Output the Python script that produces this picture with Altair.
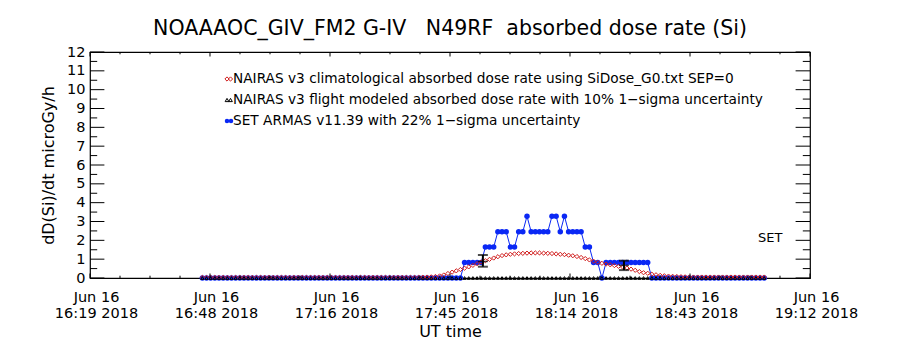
import altair as alt
import pandas as pd

# ---------------- data ----------------
# time axis in minutes after Jun 16 2018 16:19 UT
minutes = list(range(27, 163))

red_clim = [
    0.03, 0.03, 0.03, 0.03, 0.03, 0.03, 0.03, 0.03, 0.03, 0.03,
    0.03, 0.03, 0.03, 0.03, 0.03, 0.03, 0.03, 0.03, 0.03, 0.03,
    0.03, 0.03, 0.03, 0.03, 0.03, 0.03, 0.03, 0.03, 0.03, 0.03,
    0.03, 0.03, 0.03, 0.03, 0.03, 0.03, 0.03, 0.03, 0.03, 0.03,
    0.03, 0.03, 0.03, 0.03, 0.03, 0.03, 0.03, 0.03, 0.03, 0.03,
    0.03, 0.03, 0.03, 0.04, 0.05,
    0.06, 0.08, 0.11, 0.16, 0.24, 0.31, 0.38, 0.45, 0.52, 0.59,
    0.67, 0.76, 0.85, 0.92, 0.99, 1.06, 1.13, 1.19, 1.23, 1.26,
    1.28, 1.30, 1.31, 1.32, 1.33, 1.33, 1.33, 1.32, 1.31, 1.30,
    1.28, 1.26, 1.24, 1.21, 1.18, 1.14, 1.09, 1.03, 0.96, 0.89,
    0.83, 0.78, 0.74, 0.70, 0.66, 0.62, 0.58, 0.53, 0.47, 0.41,
    0.34, 0.28, 0.25, 0.20, 0.17, 0.14, 0.12, 0.10, 0.09, 0.08,
    0.07, 0.06, 0.05, 0.05, 0.05, 0.05, 0.05, 0.05, 0.05, 0.05,
    0.05, 0.05, 0.05, 0.05, 0.05, 0.05, 0.05, 0.05, 0.05, 0.05,
    0.05,
]

black_flight = [
    0, 0, 0, 0, 0, 0, 0, 0, 0, 0, 0, 0, 0, 0, 0, 0, 0, 0, 0, 0,
    0, 0, 0, 0, 0, 0, 0, 0, 0, 0, 0, 0, 0, 0, 0, 0, 0, 0, 0, 0,
    0, 0, 0, 0, 0, 0, 0, 0, 0, 0, 0, 0, 0, 0, 0, 0, 0, 0, 0, 0,
    0, 0, 0, 0, 0, 0, 0, 0, 0, 0, 0, 0, 0, 0, 0, 0, 0, 0, 0, 0,
    0, 0, 0, 0, 0, 0, 0, 0, 0, 0, 0, 0, 0, 0, 0, 0, 0, 0, 0, 0,
    0, 0, 0, 0, 0, 0, 0, 0, 0, 0, 0, 0, 0, 0, 0, 0, 0, 0, 0, 0,
    0, 0, 0, 0, 0, 0, 0, 0, 0, 0, 0, 0, 0, 0, 0, 0,
]

blue_set = [
    0, 0, 0, 0, 0, 0, 0, 0, 0, 0, 0, 0, 0, 0, 0, 0, 0, 0, 0, 0,
    0, 0, 0, 0, 0, 0, 0, 0, 0, 0, 0, 0, 0, 0, 0, 0, 0, 0, 0, 0,
    0, 0, 0, 0, 0, 0, 0, 0, 0, 0, 0, 0, 0, 0, 0, 0, 0, 0, 0, 0,
    0, 0, 0,
    0.82, 0.82, 0.82, 0.82, 0.82,
    1.64, 1.64, 1.64,
    2.46, 2.46, 2.46,
    1.64, 1.64,
    2.46, 2.46,
    3.28,
    2.46, 2.46, 2.46, 2.46, 2.46,
    3.28, 3.28,
    2.46,
    3.28,
    2.46, 2.46, 2.46, 2.46,
    1.64, 1.64,
    0.82, 0.82,
    0,
    0.82, 0.82, 0.82, 0.82, 0.82, 0.82, 0.82, 0.82, 0.82, 0.82, 0.82,
    0, 0, 0, 0, 0, 0, 0, 0, 0, 0, 0, 0, 0, 0, 0, 0, 0, 0, 0, 0,
    0, 0, 0, 0, 0, 0, 0, 0,
]

# error bars (black, I-shaped)
err_t = [94.4, 128.3]
err_mid = [0.88, 0.67]
err_lo = [0.60, 0.42]
err_hi = [1.22, 0.92]

x_tick_minutes = [0, 28.83, 57.67, 86.5, 115.33, 144.17, 173.0]
x_minor_minutes = [7.21, 14.42, 21.63, 36.04, 43.25, 50.46, 64.88, 72.08, 79.29,
                   93.71, 100.92, 108.13, 122.54, 129.75, 136.96, 151.38, 158.58, 165.79]
x_tick_dates = ["Jun 16", "Jun 16", "Jun 16", "Jun 16", "Jun 16", "Jun 16", "Jun 16"]
x_tick_times = ["16:19 2018", "16:48 2018", "17:16 2018", "17:45 2018",
                "18:14 2018", "18:43 2018", "19:12 2018"]
y_major = [0, 1, 2, 3, 4, 5, 6, 7, 8, 9, 10, 11, 12]
y_minor = [0.5, 1.5, 2.5, 3.5, 4.5, 5.5, 6.5, 7.5, 8.5, 9.5, 10.5, 11.5]

legend_labels = [
    "NAIRAS v3 climatological absorbed dose rate using SiDose_G0.txt SEP=0",
    "NAIRAS v3 flight modeled absorbed dose rate with 10% 1\u2212sigma uncertainty",
    "SET ARMAS v11.39 with 22% 1\u2212sigma uncertainty",
]
NB = "\u00a0"
title_text = "NOAAAOC_GIV_FM2 G-IV" + NB * 3 + "N49RF" + NB * 2 + "absorbed dose rate (Si)"

# ---------------- chart ----------------
FONT = "DejaVu Sans"
RED = "#d01c1c"
BLUE = "#0a28f5"
W, H = 720, 226

df = pd.DataFrame({"t": minutes, "red": red_clim, "black": black_flight, "blue": blue_set})
err_df = pd.DataFrame({"t": err_t, "mid": err_mid, "lo": err_lo, "hi": err_hi})

xs = alt.Scale(domain=[0, 173], nice=False, zero=False)
ys = alt.Scale(domain=[0, 12], nice=False, zero=False)

label_arr = "[" + ",".join('["%s","%s"]' % (d, t) for d, t in zip(x_tick_dates, x_tick_times)) + "]"
label_expr = "%s[round(datum.value / %s)]" % (label_arr, x_tick_minutes[1])

x_axis = alt.Axis(values=x_tick_minutes, labelExpr=label_expr, ticks=False, tickSize=0,
                  domain=False, grid=False, labelFont=FONT, labelFontSize=14.5,
                  labelColor="black", labelPadding=12, labelFlush=False, labelLineHeight=16.5,
                  labelOffset=6, labelOverlap=False, title="UT time", titleFont=FONT,
                  titleFontSize=16, titleFontWeight="normal", titleColor="black",
                  titlePadding=3)
y_axis = alt.Axis(values=y_major, ticks=False, tickSize=0, domain=False, grid=False,
                  labelFont=FONT, labelFontSize=14.5, labelColor="black", labelPadding=5,
                  labelFlush=False, labelOverlap=False, title="dD(Si)/dt microGy/h",
                  titleFont=FONT, titleFontSize=16, titleFontWeight="normal",
                  titleColor="black", titlePadding=10)


def X(f):
    return alt.X(f, type="quantitative", scale=xs, axis=x_axis)


def Y(f):
    return alt.Y(f, type="quantitative", scale=ys, axis=y_axis)


base = alt.Chart(df)

blue_line = base.mark_line(color=BLUE, strokeWidth=1).encode(x=X("t"), y=Y("blue"))
blue_pts = base.mark_point(shape="circle", filled=True, color=BLUE, size=30, opacity=1).encode(
    x=X("t"), y=Y("blue"))
red_pts = base.mark_point(shape="diamond", filled=False, color=RED, size=18, strokeWidth=1,
                          opacity=1).encode(x=X("t"), y=Y("red"))
black_pts = base.mark_point(shape="triangle-up", filled=False, color="black", size=10,
                            strokeWidth=1, opacity=1).encode(x=X("t"), y=Y("black"))

eb = alt.Chart(err_df)
err_rule = eb.mark_rule(color="black", strokeWidth=2).encode(x=X("t"), y=Y("lo"), y2="hi")
err_lo_cap = eb.mark_tick(color="black", orient="horizontal", size=10, thickness=2).encode(
    x=X("t"), y=Y("lo"))
err_hi_cap = eb.mark_tick(color="black", orient="horizontal", size=10, thickness=2).encode(
    x=X("t"), y=Y("hi"))
err_mid_cap = eb.mark_tick(color="black", orient="horizontal", size=10, thickness=1.5).encode(
    x=X("t"), y=Y("mid"))

# ticks drawn inward
ymaj = alt.Chart(pd.DataFrame({"v": y_major}))
ymin = alt.Chart(pd.DataFrame({"v": y_minor}))
xmaj = alt.Chart(pd.DataFrame({"v": x_tick_minutes}))
xmin = alt.Chart(pd.DataFrame({"v": x_minor_minutes}))
tick_layers = [
    ymaj.mark_rule(color="black").encode(y=Y("v"), x=alt.value(0), x2=alt.value(14.4)),
    ymin.mark_rule(color="black").encode(y=Y("v"), x=alt.value(0), x2=alt.value(7.2)),
    ymaj.mark_rule(color="black").encode(y=Y("v"), x=alt.value(W), x2=alt.value(W - 14.4)),
    ymin.mark_rule(color="black").encode(y=Y("v"), x=alt.value(W), x2=alt.value(W - 7.2)),
    xmaj.mark_rule(color="black").encode(x=X("v"), y=alt.value(H), y2=alt.value(H - 4.5)),
    xmin.mark_rule(color="black").encode(x=X("v"), y=alt.value(H), y2=alt.value(H - 2.3)),
    xmaj.mark_rule(color="black").encode(x=X("v"), y=alt.value(0), y2=alt.value(4.5)),
    xmin.mark_rule(color="black").encode(x=X("v"), y=alt.value(0), y2=alt.value(2.3)),
]

# legend (inside plot, top)
one = alt.Chart(pd.DataFrame({"a": [0]}))
leg_y = [27, 48, 69]
legend_layers = []
for i, lab in enumerate(legend_labels):
    legend_layers.append(
        one.mark_text(align="left", baseline="middle", font=FONT, fontSize=13.7, color="black").encode(
            x=alt.value(143), y=alt.value(leg_y[i]), text=alt.value(lab)))
for xx in (137, 140.5):
    legend_layers.append(one.mark_point(shape="diamond", filled=False, color=RED, size=18,
                                        strokeWidth=1, opacity=1).encode(
        x=alt.value(xx), y=alt.value(leg_y[0])))
    legend_layers.append(one.mark_point(shape="triangle-up", filled=False, color="black", size=14,
                                        strokeWidth=1, opacity=1).encode(
        x=alt.value(xx), y=alt.value(leg_y[1])))
legend_layers.append(one.mark_rule(color=BLUE, strokeWidth=1).encode(
    x=alt.value(135), x2=alt.value(143), y=alt.value(leg_y[2])))
for xx in (137, 141):
    legend_layers.append(one.mark_point(shape="circle", filled=True, color=BLUE, size=20,
                                        opacity=1).encode(x=alt.value(xx), y=alt.value(leg_y[2])))

set_text = one.mark_text(align="left", baseline="middle", font=FONT, fontSize=13,
                         color="black").encode(x=alt.value(668), y=alt.value(186),
                                               text=alt.value("SET"))

chart = alt.layer(
    blue_line, blue_pts, red_pts, black_pts,
    err_rule, err_lo_cap, err_hi_cap, err_mid_cap,
    *tick_layers, *legend_layers, set_text,
).properties(
    width=W, height=H,
    title=alt.TitleParams(title_text, font=FONT, fontSize=20.5, fontWeight="normal",
                          anchor="middle", offset=5, color="black"),
    autosize=alt.AutoSizeParams(type="none"),
    padding={"left": 90, "top": 52, "right": 90, "bottom": 72},
    background="white",
).configure_view(stroke="black", strokeWidth=1.2)

chart.save("out.html", embed_options={"renderer": "svg", "actions": False})
